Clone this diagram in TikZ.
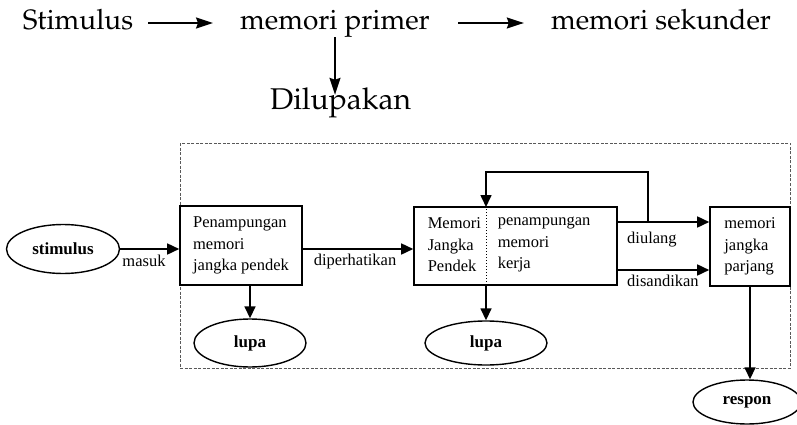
\documentclass[tikz,border=0pt]{standalone}
\usepackage[T1]{fontenc}
\usepackage{fontspec}
\setmainfont{Liberation Serif}
\usetikzlibrary{arrows.meta,shapes.geometric}

\begin{document}
\begin{tikzpicture}[x=1pt,y=-1pt,
		big/.style = {font=\fontencoding{T1}\fontfamily{ppl}\fontsize{28}{32}\selectfont, text height=15pt, text depth=1pt, inner sep=2pt, anchor=base},
		box/.style = {draw, line width=1.6pt, inner sep=0pt, align=left, font=\fontsize{16.5}{21.5}\selectfont},
		oval/.style = {draw, ellipse, line width=1.4pt, inner sep=0pt, font=\bfseries\fontsize{17}{20}\selectfont},
		lbl/.style = {font=\fontsize{16.5}{19}\selectfont, inner sep=0pt},
		arr/.style = {line width=1.6pt, -{Triangle[length=12pt,width=11pt]}},
		tip/.style = {line width=1.6pt, -{Stealth[length=17pt,width=11pt,inset=2pt]}}]
				\useasboundingbox (0,0) rectangle (797,425);
				\node[big] (st) at (78,30) {Stimulus};
				\node[big] (mp) at (335,30) {memori primer};
				\node[big] (mk) at (661,30) {memori sekunder};
				\node[big, font=\fontencoding{T1}\fontfamily{ppl}\fontsize{30}{34}\selectfont, text height=13pt] (dl) at (340.5,110) {Dilupakan};
				\draw[tip, shorten <=13pt, shorten >=25pt] (st) -- (mp);
				\draw[tip, shorten <=26pt, shorten >=25pt] (mp) -- (mk);
				\draw[tip, shorten <=4pt] (mp.south) -- (mp.south |- dl.north);
				
				\draw[black!65, line width=0.9pt, dash pattern=on 3pt off 1.5pt] (180,143) rectangle (790,368);
				\node[oval, minimum width=113pt, minimum height=49pt] (sti) at (63,249) {stimulus};
				\node[box, minimum width=122pt, minimum height=79pt] (pjp) at (241,245.5) {Penampungan\\memori\\jangka pendek};
				\node[box, minimum width=203pt, minimum height=78pt] (mjp) at (515.5,246) {};
				\node[box, draw=none, anchor=west] (mjpl) at (427,245) {Memori\\Jangka\\Pendek};
				\node[box, draw=none, anchor=west] (mjpr) at (497,245) {penampungan\\memori\\kerja};
				\node[box, minimum width=80pt, minimum height=79pt] (mpj) at (750,246.5) {memori\\jangka\\parjang};
				\node[oval, minimum width=112pt, minimum height=48pt] (lp1) at (250,343) {lupa};
				\node[oval, minimum width=122pt, minimum height=44pt] (lp2) at (486,343) {lupa};
				\node[oval, minimum width=108pt, minimum height=44pt] (rsp) at (747,402) {respon};
				\coordinate (bagi) at (486,207);
				\coordinate (cab) at (648,222);
				\coordinate (sand) at (0,270);
				\draw[dotted, line width=1pt] (mjp.north -| bagi) -- (mjp.south -| bagi);
				
				\draw[arr] (sti) -- (sti -| pjp.west);
				\draw[arr] (sti -| pjp.east) -- (sti -| mjp.west);
				\draw[arr] (pjp.south -| lp1) -- (lp1.north);
				\draw[arr] (mjp.south -| lp2) -- (lp2.north);
				\draw[arr] (cab -| mjp.east) -- (cab -| mpj.west);
				\draw[arr] (sand -| mjp.east) -- (sand -| mpj.west);
				\draw[arr] (cab) -- ++(0,-50) -| (bagi);
				\draw[arr] (mpj.south) -- (mpj.south |- rsp.north);
				\node[lbl] (msk) at (144,261) {masuk};
				\node[lbl] (dph) at (355,262) {diperhatikan};
				\node[lbl, anchor=west] (ulg) at (627,240) {diulang};
				\node[lbl, anchor=west] (snd) at (627,281) {disandikan};
			\end{tikzpicture}
\end{document}
